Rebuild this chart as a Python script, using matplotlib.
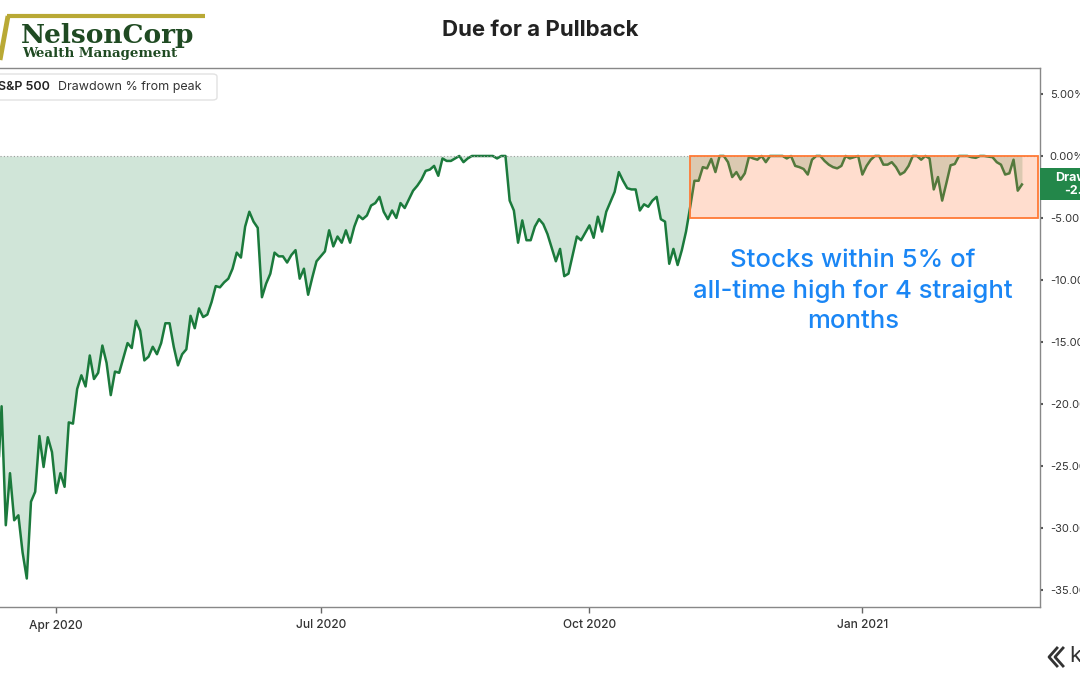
import pandas as pd
import matplotlib
matplotlib.use("Agg")
import matplotlib.pyplot as plt
from matplotlib.patches import Rectangle, FancyBboxPatch
from matplotlib.lines import Line2D

# S&P 500 drawdown from peak (%), one value per session
dd_mar_jun = [-26.7, -20.2, -29.8, -25.6, -29.4, -29.0, -32.0, -34.1, -27.9, -27.1, -22.6,
              -25.1, -22.7, -23.9, -27.2, -25.6, -26.7, -21.5, -21.6, -18.8, -17.7,
              -18.6, -16.1, -18.0, -17.5, -15.3, -16.7, -19.3, -17.4, -17.5, -16.3,
              -15.1, -15.5, -13.3, -14.1, -16.5, -16.2, -15.4, -16.0, -15.1, -13.5,
              -13.5, -15.4, -16.9, -16.0, -15.6, -12.9, -13.9, -12.3, -13.0, -12.8,
              -11.8, -10.5, -10.6, -10.2, -9.9, -9.1, -7.8, -8.2, -5.7, -4.5,
              -5.3, -5.8, -11.4, -10.3, -9.5, -7.8, -8.1]
dd_jun_sep = [-8.1, -8.6, -8.0, -7.6, -9.9, -9.1, -11.2, -9.8, -8.5, -8.1,
              -7.7, -6.0, -7.3, -6.5, -7.0, -6.0, -7.0, -5.7, -4.8, -5.1,
              -4.8, -4.0, -3.8, -3.3, -4.5, -5.1, -4.4, -5.0, -3.8, -4.2,
              -3.5, -2.8, -2.4, -1.9, -1.2, -1.1, -0.8, -1.6, -0.2, -0.4,
              -0.4, -0.2, 0.0, -0.5, -0.2, 0.0, 0.0, 0.0, 0.0, 0.0,
              0.0, -0.2, 0.0, 0.0, -3.6]
dd_sep_nov = [-4.4, -7.0, -5.2, -6.8, -6.8, -5.7, -5.1, -5.5, -6.3, -7.4,
              -8.5, -7.5, -9.7, -9.5, -8.0, -6.5, -6.8, -6.2, -5.6, -6.6,
              -4.9, -6.1, -4.5, -3.7, -2.9, -1.3, -2.0, -2.6, -2.7, -2.7,
              -4.4, -3.9, -4.1, -3.6, -3.3, -5.1, -5.3, -8.7, -7.5, -8.8,
              -7.6, -6.1, -4.1, -2.0, -2.0, -0.9, -1.0, -0.24, -1.3, 0.0]
dd_nov_feb = [0.0, -0.5, -1.7, -1.3, -1.9, -1.4, -0.05, -0.2, -0.3, 0.0,
              -0.5, 0.0, 0.0, 0.0, 0.0, -0.2, 0.0, -0.8, -0.9, -1.05,
              -1.5, -0.3, 0.0, 0.0, -0.4, -0.7, -0.9, -1.0, -0.8, 0.0,
              -0.2, -0.1, 0.0, -1.5, -0.8, -0.3, 0.0, 0.0, -0.7, -0.7,
              -0.5, -0.9, -1.5, -1.3, -0.8, 0.0, 0.0, -0.3, 0.0, -0.2,
              -2.7, -1.7, -3.6, -2.2, -0.75, -0.65, 0.0, 0.0, 0.0, -0.1,
              -0.15, 0.0, 0.0, -0.05, -0.1, -0.5, -0.7, -1.5, -1.4, -0.3,
              -2.8, -2.3]
closed_days = ["2020-04-10", "2020-05-25", "2020-07-03", "2020-09-07",
               "2020-12-25", "2021-01-01", "2021-02-15"]
tick_months = ["2020-04", "2020-07", "2020-10", "2021-01"]
tick_labels = ["Apr 2020", "Jul 2020", "Oct 2020", "Jan 2021"]
box_start = "2020-11-04"
box_bottom = -5.0

drawdown = dd_mar_jun + dd_jun_sep + dd_sep_nov + dd_nov_feb
dates = pd.bdate_range("2020-03-12", "2021-02-26", freq="C", holidays=closed_days)
n = min(len(dates), len(drawdown))
dates = dates[:n]
drawdown = drawdown[:n]
x = list(range(n))

plt.rcParams["font.family"] = ["Inter", "DejaVu Sans"]

W, H = 1080, 675
def fx(px):
    return px / W
def fy(py):
    return 1 - py / H

fig = plt.figure(figsize=(W / 100, H / 100), dpi=100)
ax = fig.add_axes([fx(0), fy(607), fx(1040), fy(68) - fy(607)])

ax.fill_between(x, drawdown, 0, color="#d0e5d8", lw=0, zorder=1)
ax.plot(x, drawdown, color="#1b7a3c", lw=1.8, zorder=2)
ax.axhline(0, color="#9a9a9a", ls=(0, (1, 2)), lw=0.8, zorder=2)

x_left, x_right = 0.62, 248.3
ax.set_xlim(x_left, x_right)
ax.set_ylim(-36.4, 7.1)

i0 = list(dates.strftime("%Y-%m-%d")).index(box_start)
ax.add_patch(Rectangle((i0, box_bottom), x_right - 0.4 - i0, -box_bottom,
                       facecolor=(1.0, 0.47, 0.24, 0.25), edgecolor="#ff7a36",
                       lw=1.3, zorder=3))

# x ticks at first session of each labelled month
months = list(dates.strftime("%Y-%m"))
ticks = [months.index(m) for m in tick_months]
ax.set_xticks(ticks)
ax.set_xticklabels(tick_labels, fontsize=8.6, color="#333333", fontweight="medium")
ax.tick_params(axis="x", length=4, width=1, color="#666666", pad=5)

ax.yaxis.tick_right()
yt = list(range(5, -36, -5))
ax.set_yticks(yt)
ax.set_yticklabels([f"{v:.2f}%" for v in yt], fontsize=8, color="#333333")
ax.tick_params(axis="y", length=2, width=1.5, color="#555555", pad=5)

for s in ["top", "bottom", "right"]:
    ax.spines[s].set_color("#888888")
    ax.spines[s].set_linewidth(1)
ax.spines["left"].set_visible(False)

# last value tag
last = drawdown[-1]
yb = ax.transData.transform((0, last))[1]
tag_y = yb / H
fig.patches.append(Rectangle((fx(1040), tag_y - 16 / H), 100 / W, 32 / H,
                             transform=fig.transFigure, facecolor="#23874a",
                             edgecolor="none", zorder=5))
fig.text(fx(1088), tag_y, f"Drawdown\n{last:.2f}%", color="white", fontsize=9,
         fontweight="bold", ha="center", va="center", linespacing=1.1, zorder=6)

# series legend box
fig.patches.append(FancyBboxPatch((fx(-10), fy(100)), fx(227), fy(74) - fy(100),
                                  boxstyle="round,pad=0,rounding_size=0.004",
                                  transform=fig.transFigure, facecolor="white",
                                  edgecolor="#e2e2e2", lw=1, zorder=4))
fig.text(fx(-2), fy(87), "S&P 500", fontsize=9, fontweight="semibold",
         color="#222222", va="center", zorder=5)
fig.text(fx(58), fy(87), "Drawdown % from peak", fontsize=9,
         color="#333333", va="center", zorder=5)

fig.text(fx(853), fy(291), "Stocks within 5% of\nall-time high for 4 straight\nmonths",
         color="#1a86f5", fontsize=18.5, fontweight="medium", ha="center",
         va="center", linespacing=1.42)

fig.text(fx(540), fy(30), "Due for a Pullback", fontsize=16, fontweight="bold",
         color="#222222", ha="center", va="center")

# NelsonCorp logo
gold = "#b9a935"
fig.lines.append(Line2D([fx(7), fx(205)], [fy(16), fy(16)], color=gold, lw=3,
                        transform=fig.transFigure, solid_capstyle="butt"))
fig.lines.append(Line2D([fx(0), fx(8)], [fy(60), fy(16)], color=gold, lw=3.5,
                        transform=fig.transFigure, solid_capstyle="butt"))
fig.text(fx(21), fy(35), "NelsonCorp", family="DejaVu Serif", fontweight="bold",
         fontsize=19, color="#1f4a22", va="center")
fig.text(fx(22), fy(54), "Wealth Management", family="DejaVu Serif",
         fontweight="bold", fontsize=9.6, color="#1f4a22", va="center")

# koyfin mark
for off in [0, 6]:
    fig.lines.append(Line2D([fx(1057 + off), fx(1049 + off), fx(1057 + off)],
                            [fy(648), fy(657), fy(666)], color="#333333", lw=2,
                            transform=fig.transFigure))
fig.text(fx(1069), fy(656), "k", fontsize=16, color="#333333", va="center")

fig.savefig("out.png", dpi=100, facecolor="white")
